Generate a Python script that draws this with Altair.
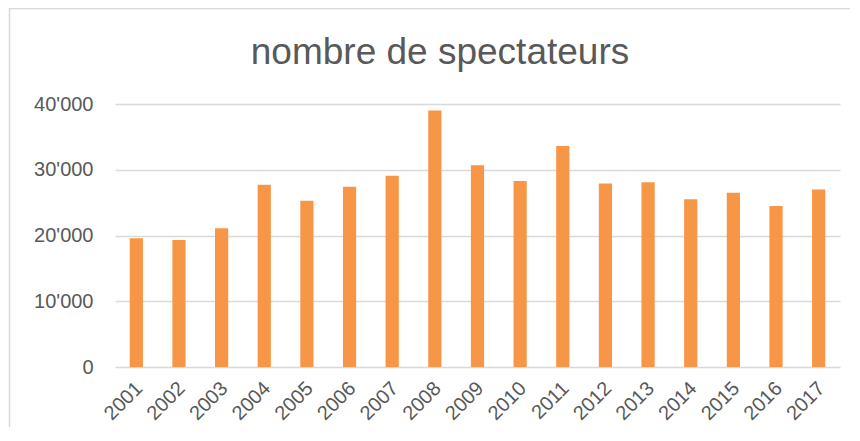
import altair as alt
import pandas as pd

years = ["2001", "2002", "2003", "2004", "2005", "2006", "2007", "2008", "2009",
         "2010", "2011", "2012", "2013", "2014", "2015", "2016", "2017"]
spectateurs = [19600, 19300, 21100, 27700, 25300, 27400, 29100, 39000, 30700,
               28300, 33600, 27900, 28100, 25500, 26500, 24500, 27000]
y_ticks = [0, 10000, 20000, 30000, 40000]
title_text = "nombre de spectateurs"

df = pd.DataFrame({"annee": years, "spectateurs": spectateurs})

FONT = "Liberation Sans"
TXT = "#595959"
GRID = "#d9d9d9"
W, H = 725, 263

bars = alt.Chart(df).mark_bar(color="#F79646").encode(
    x=alt.X("annee:N", sort=years, title=None,
            scale=alt.Scale(paddingInner=0.69, paddingOuter=0.345),
            axis=alt.Axis(labelAngle=-45, labelAlign="right", labelBaseline="middle",
                          labelFontSize=20, labelColor=TXT, labelFont=FONT,
                          labelPadding=18, labelOffset=3, ticks=False, domain=False,
                          grid=False)),
    y=alt.Y("spectateurs:Q", title=None,
            scale=alt.Scale(domain=[0, 40000], nice=False),
            axis=alt.Axis(values=y_ticks, labelFontSize=20, labelColor=TXT, labelFont=FONT,
                          labelPadding=22, ticks=False, domain=False,
                          gridColor=GRID, gridWidth=1.5,
                          labelExpr="replace(format(datum.value, ','), ',', \"'\")")),
)

frame = alt.Chart(alt.Data(values=[{}])).mark_rect(
    fill=None, stroke=GRID, strokeWidth=1.5
).encode(
    x=alt.value(-105.5), x2=alt.value(W + 60),
    y=alt.value(-95.5), y2=alt.value(H + 120),
)

title = alt.Chart(alt.Data(values=[{}])).mark_text(
    text=title_text, font=FONT, fontSize=37, color=TXT, align="center",
    baseline="alphabetic"
).encode(x=alt.value(325), y=alt.value(-40))

chart = alt.layer(frame, bars, title).properties(
    width=W, height=H,
    autosize=alt.AutoSizeParams(type="none"),
    padding={"left": 107, "top": 96, "right": 10, "bottom": 60},
).configure(background="white").configure_view(stroke=None)

chart.save("out.html", embed_options={"renderer": "svg", "actions": False})
